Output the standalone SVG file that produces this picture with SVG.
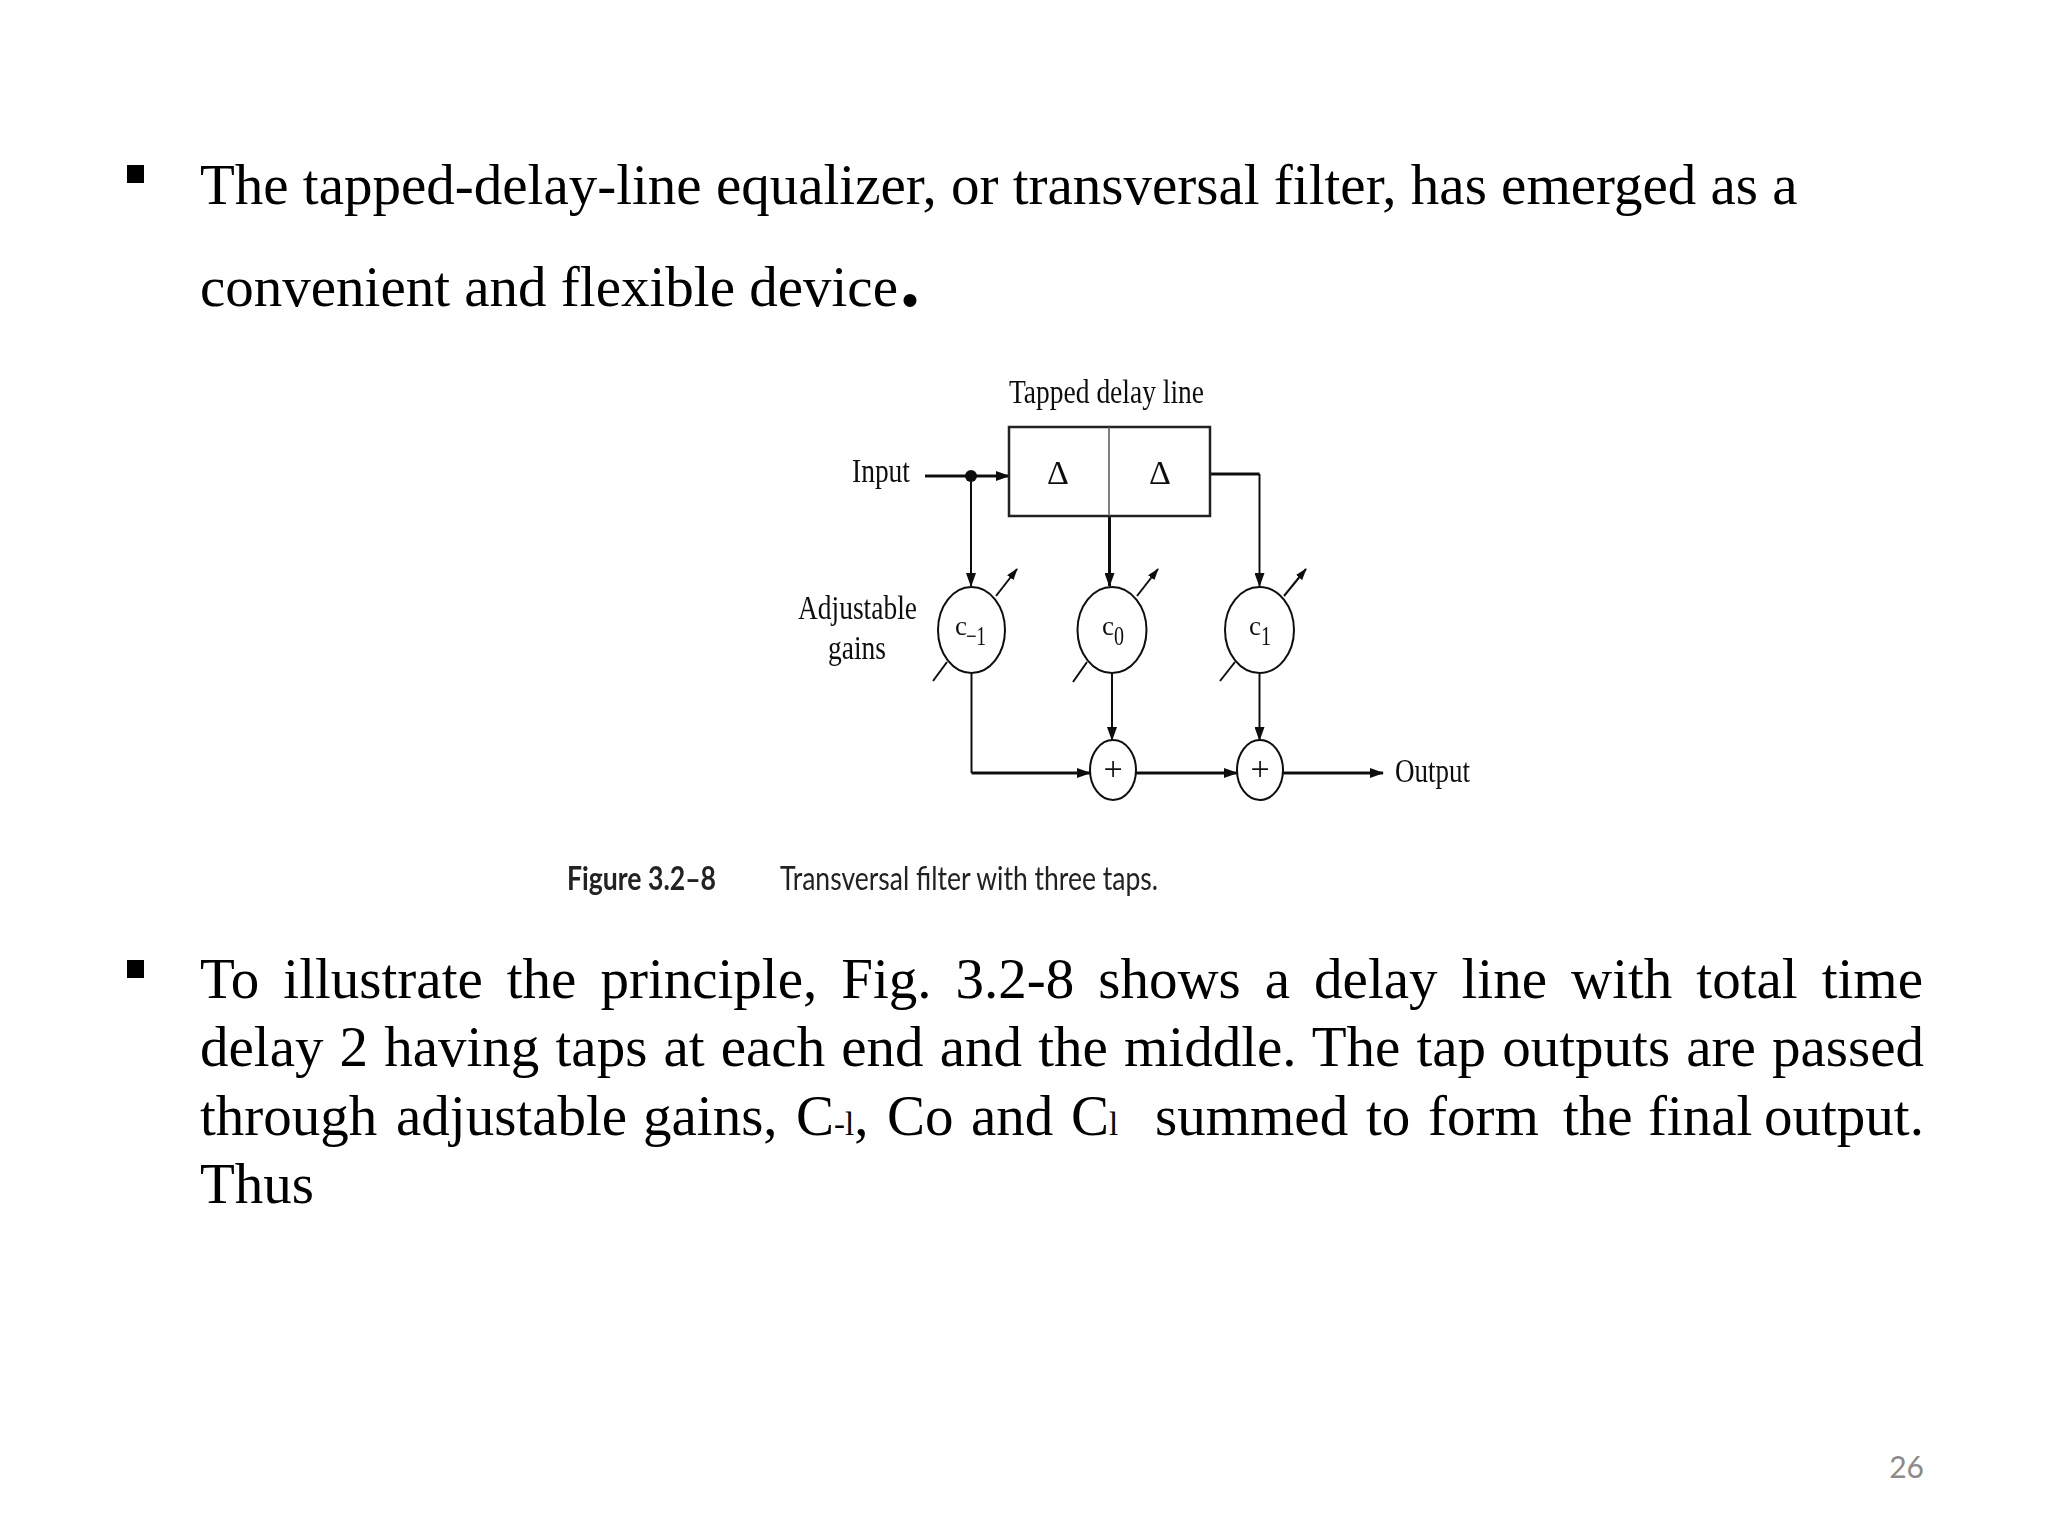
<svg xmlns="http://www.w3.org/2000/svg" width="2048" height="1536" viewBox="0 0 2048 1536">
<style>
.b{font-family:"Liberation Serif","Times New Roman",serif;font-size:57px;fill:#000}
.f{font-family:"Liberation Serif","Times New Roman",serif;fill:#111;font-size:34px}
.g{font-family:"Liberation Serif","Times New Roman",serif;fill:#111;font-size:27px}
.c{font-family:"Lato","Open Sans",sans-serif;fill:#222;font-size:33px}
.l{fill:none;stroke:#111;stroke-width:2}
.t{stroke-width:3}
.n{fill:#fff;stroke:#111;stroke-width:2}
</style>
<defs>
<marker id="a" markerUnits="userSpaceOnUse" markerWidth="14" markerHeight="10" refX="13" refY="5" orient="auto"><path d="M0 0L14 5L0 10z" fill="#111"/></marker>
<marker id="s" markerUnits="userSpaceOnUse" markerWidth="12" markerHeight="8" refX="11" refY="4" orient="auto"><path d="M0 0L12 4L0 8z" fill="#111"/></marker>
<filter id="soft" x="-5%" y="-5%" width="110%" height="110%"><feGaussianBlur stdDeviation="0.6"/></filter>
</defs>
<rect width="2048" height="1536" fill="#fff"/>

<g id="text-top">
<rect x="127" y="165" width="17" height="18" fill="#000"/>
<text class="b" x="200" y="204">The tapped-delay-line equalizer, or transversal filter, has emerged as a</text>
<text class="b" x="200" y="306">convenient and flexible device<tspan dx="2" font-size="80" font-weight="bold">.</tspan></text>
</g>

<g filter="url(#soft)">
<g id="connectors">
<path class="l t" d="M925 476H1009" marker-end="url(#a)"/>
<path class="l" d="M971 476V586" marker-end="url(#a)"/>
<path class="l t" d="M1109.500 516V586" marker-end="url(#a)"/>
<path class="l t" d="M1210 474H1259.500"/>
<path class="l" d="M1259.500 474V586" marker-end="url(#a)"/>
<path class="l" d="M971.500 673V773"/>
<path class="l t" d="M971.500 773H1090" marker-end="url(#a)"/>
<path class="l" d="M1112 673V740" marker-end="url(#a)"/>
<path class="l" d="M1259.500 673V740" marker-end="url(#a)"/>
<path class="l t" d="M1136 773H1237" marker-end="url(#a)"/>
<path class="l t" d="M1283 773H1383" marker-end="url(#a)"/>
<path class="l" d="M996 596L1017 569" marker-end="url(#s)"/>
<path class="l" d="M1137 596L1158 569" marker-end="url(#s)"/>
<path class="l" d="M1284 596L1306 569" marker-end="url(#s)"/>
<path class="l" d="M933 681L947 662"/>
<path class="l" d="M1073 682L1087 662"/>
<path class="l" d="M1220 681L1235 662"/>
<circle cx="971" cy="476" r="6" fill="#111"/>
</g>
<g id="delay-line">
<rect x="1009" y="427" width="201" height="89" fill="#fff" stroke="#222" stroke-width="2.5"/>
<path d="M1109 427V516" stroke="#555" stroke-width="1.5"/>
<text class="f" x="1058" y="484" text-anchor="middle" font-size="30">Δ</text>
<text class="f" x="1160" y="484" text-anchor="middle" font-size="30">Δ</text>
<text class="f" x="1009" y="403" textLength="195" lengthAdjust="spacingAndGlyphs">Tapped delay line</text>
</g>
<g id="gain-c-1">
<ellipse class="n" cx="971.500" cy="630" rx="33.500" ry="43"/>
<text class="g" x="955" y="635">c</text><text class="g" x="966" y="645" textLength="20" lengthAdjust="spacingAndGlyphs">−1</text>
</g>
<g id="gain-c0">
<ellipse class="n" cx="1112" cy="630" rx="34.500" ry="43"/>
<text class="g" x="1102" y="635">c</text><text class="g" x="1114" y="645" textLength="10" lengthAdjust="spacingAndGlyphs">0</text>
</g>
<g id="gain-c1">
<ellipse class="n" cx="1259.500" cy="630" rx="34.500" ry="43"/>
<text class="g" x="1249" y="635">c</text><text class="g" x="1261" y="645" textLength="10" lengthAdjust="spacingAndGlyphs">1</text>
</g>
<g id="sum-1">
<ellipse class="n" cx="1113" cy="770" rx="23" ry="30"/>
<text class="f" x="1113" y="780" text-anchor="middle" font-size="30">+</text>
</g>
<g id="sum-2">
<ellipse class="n" cx="1260" cy="770" rx="23" ry="30"/>
<text class="f" x="1260" y="780" text-anchor="middle" font-size="30">+</text>
</g>
<g id="labels">
<text class="f" x="852" y="482" textLength="58" lengthAdjust="spacingAndGlyphs">Input</text>
<text class="f" x="798" y="619" textLength="119" lengthAdjust="spacingAndGlyphs">Adjustable</text>
<text class="f" x="828" y="659" textLength="58" lengthAdjust="spacingAndGlyphs">gains</text>
<text class="f" x="1395" y="782" textLength="75" lengthAdjust="spacingAndGlyphs">Output</text>
</g>
<g id="caption">
<text class="c" x="567" y="890" font-weight="bold" textLength="149" lengthAdjust="spacingAndGlyphs">Figure 3.2–8</text>
<text class="c" x="780" y="890" fill="#333" textLength="378" lengthAdjust="spacingAndGlyphs">Transversal filter with three taps.</text>
</g>
</g>

<g id="text-bottom">
<rect x="127" y="960" width="17" height="18" fill="#000"/>
<text class="b" x="200" y="998" word-spacing="9.75">To illustrate the principle, Fig. 3.2-8 shows a delay line with total time</text>
<text class="b" x="200" y="1066" word-spacing="1.9">delay 2 having taps at each end and the middle. The tap outputs are passed</text>
<text class="b" y="1135"><tspan x="200">through</tspan><tspan x="396">adjustable</tspan><tspan x="643">gains,</tspan><tspan x="796">C</tspan><tspan font-size="33">-l</tspan>,<tspan x="887">Co</tspan><tspan x="971">and</tspan><tspan x="1071">C</tspan><tspan font-size="33">l</tspan><tspan x="1155">summed</tspan><tspan x="1366">to</tspan><tspan x="1428">form</tspan><tspan x="1563">the</tspan><tspan x="1648">final</tspan><tspan x="1764">output.</tspan></text>
<text class="b" x="200" y="1203">Thus</text>
</g>
<text id="page-number" x="1924" y="1478" text-anchor="end" font-family="Lato,'Open Sans',sans-serif" font-size="30" fill="#8b8b8b">26</text>
</svg>
